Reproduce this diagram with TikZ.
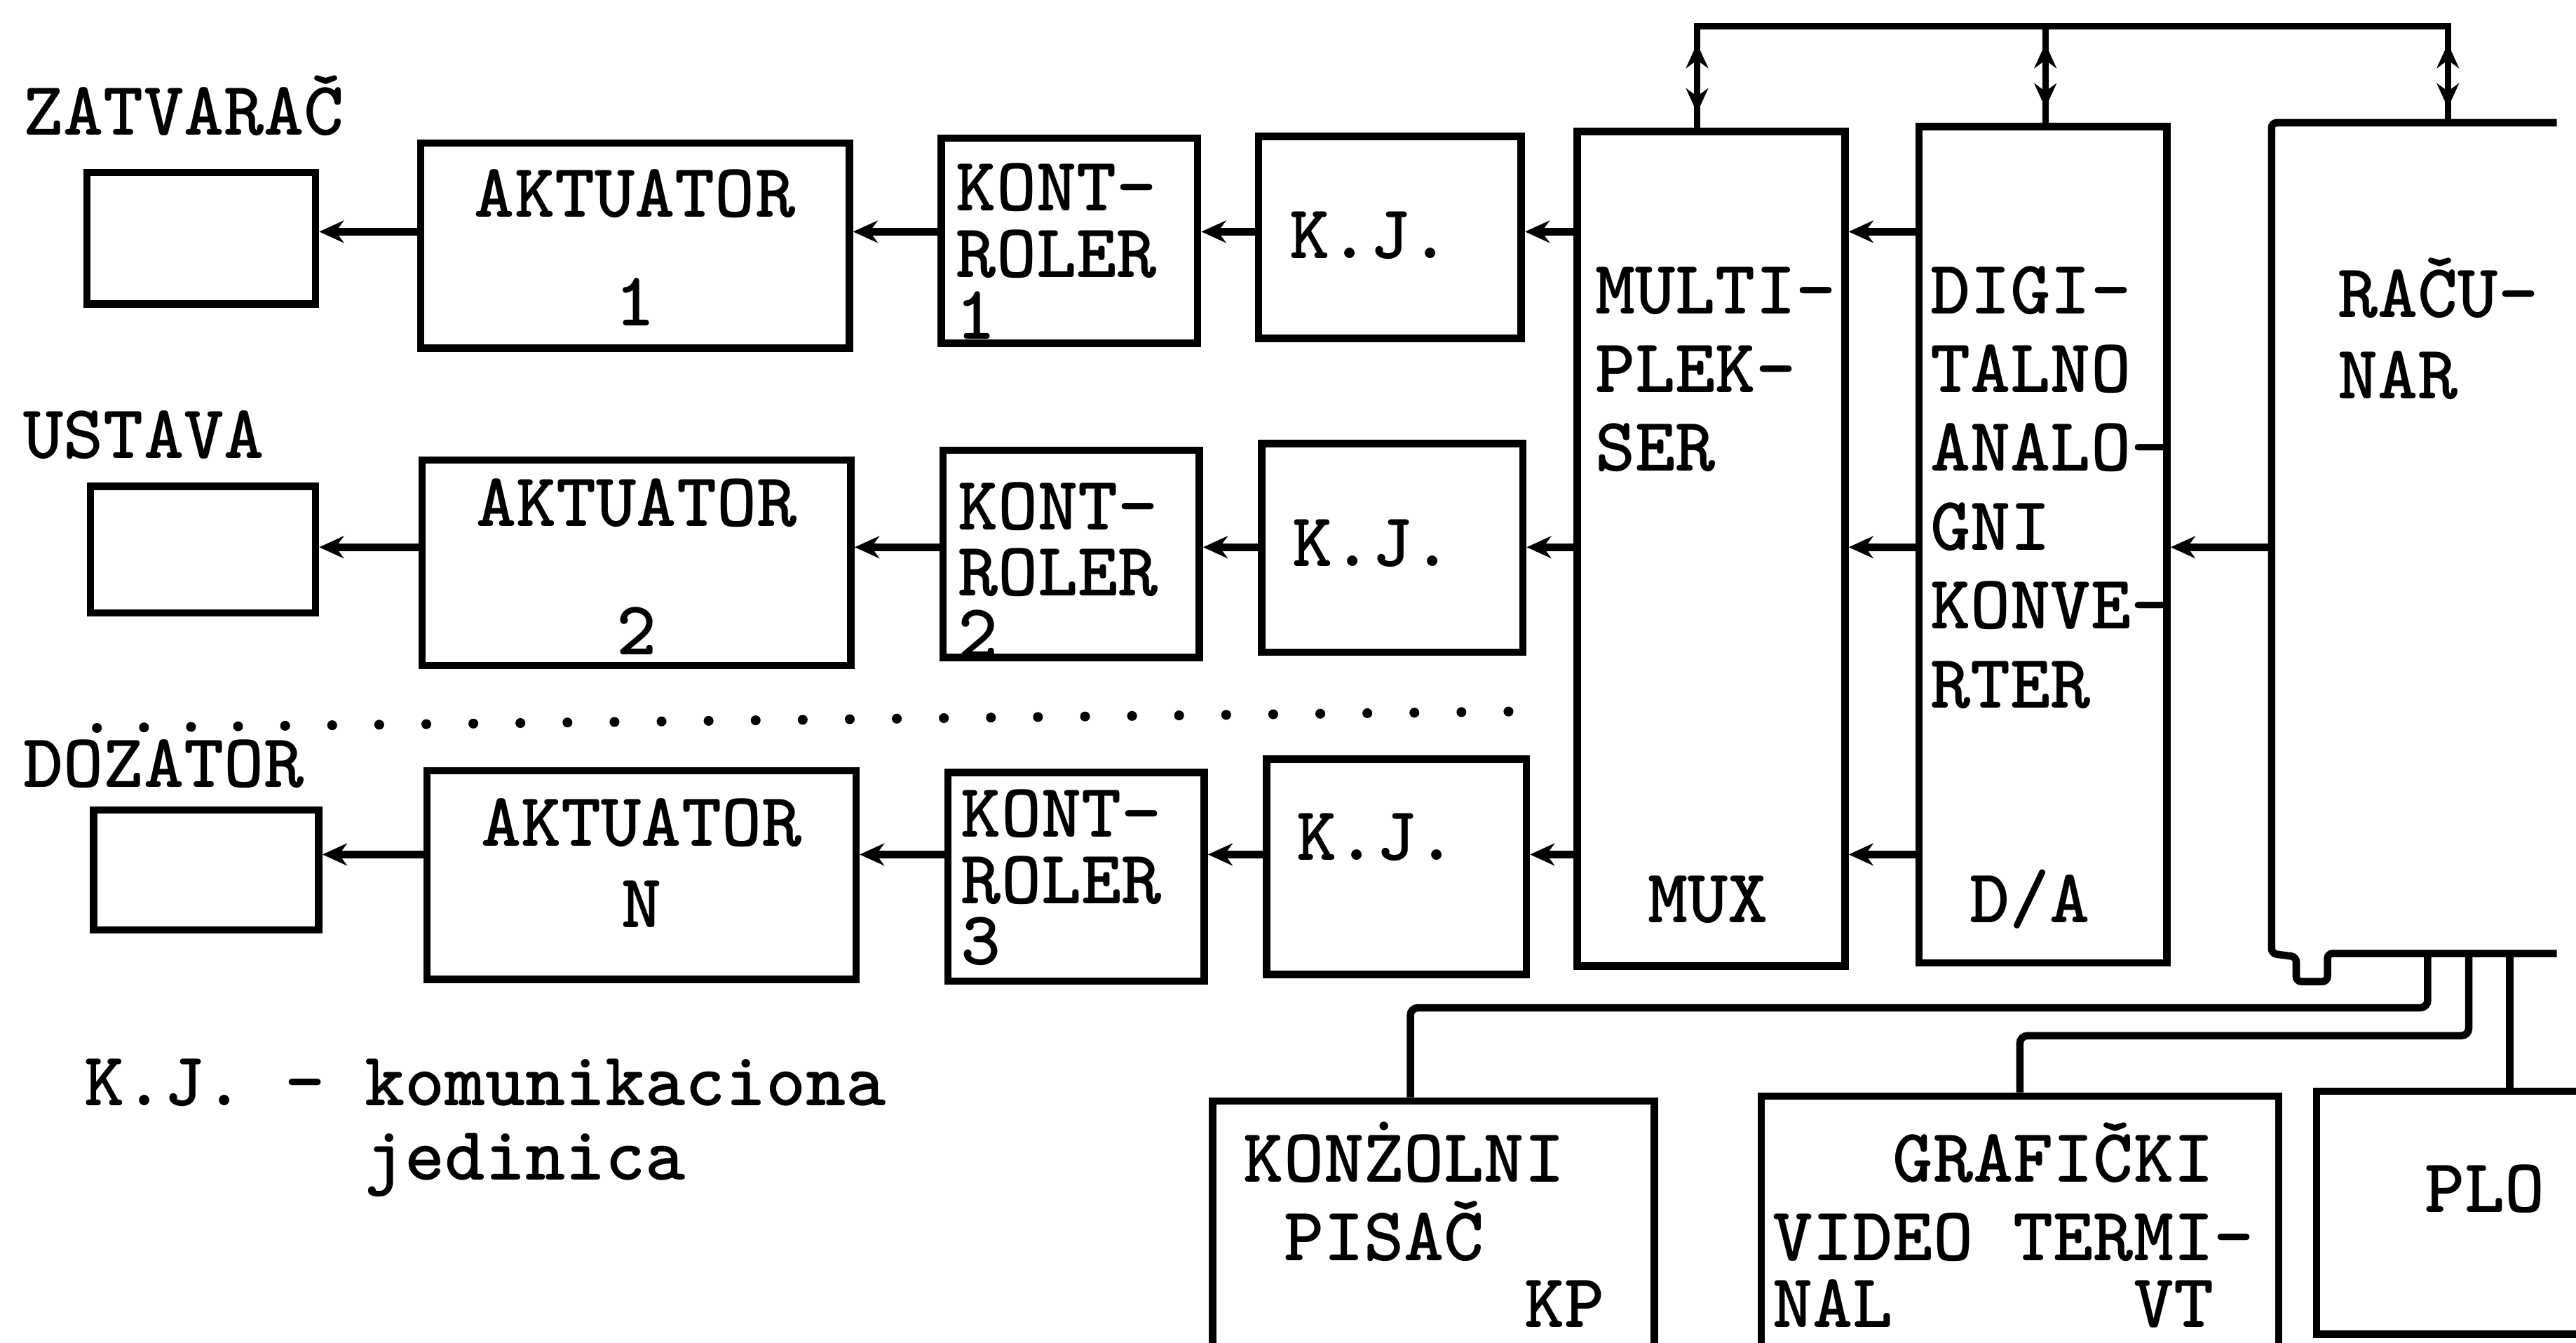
\documentclass[tikz,border=0pt]{standalone}
\usetikzlibrary{arrows.meta, fit}
\newcommand{\tyfs}[1]{\fontsize{31pt}{#1}\selectfont\ttfamily\bfseries\frenchspacing}
\newcommand{\tyf}{\tyfs{27pt}}

\begin{document}
\begin{tikzpicture}[x=0.02343cm, y=-0.02343cm,
    blk/.style={draw, line width=3pt, inner sep=0pt},
    txt/.style={font=\tyf, inner sep=0pt, align=left, anchor=base west},
    mid/.style={font=\tyf, inner sep=0pt, align=center, anchor=base},
    arr/.style={-{Stealth[length=10pt,width=9pt]}, line width=3pt},
    busline/.style={line width=2.6pt},
    busarr/.style={<->, >={Stealth[length=10pt,width=9pt]}, line width=2.6pt,
      shorten <=7pt, shorten >=6pt},
    wire/.style={line width=3pt, rounded corners=3pt},
    dotrow/.style={line width=4pt, line cap=round, dash pattern=on 0pt off 19.1pt}
  ]
  \useasboundingbox (0,0) rectangle (1568,817);
  \coordinate (r1) at (0,141);
  \coordinate (r2) at (0,333);
  \coordinate (r3) at (0,520);

  % row labels
  \node[txt] (zat) at (14,82) {ZATVARAČ};
  \node[txt] (ust) at (14,279) {USTAVA};
  \node[txt] (doz) at (14,479) {DOZATOR};

  % row 1
  \node[blk, fit={(53,105) (192,185)}] (sm1) {};
  \node[blk, fit={(256,87) (517,212)}] (ak1) {};
  \node[mid] (ak1t) at ([shift={(0,-16)}]ak1.south) {AKTUATOR\\[17pt]1};
  \node[blk, fit={(573,84) (729,209)}] (kr1) {};
  \node[txt] (kr1t) at ([shift={(11,-5)}]kr1.south west) {KONT-\\ROLER\\[-2pt]1};
  \node[blk, fit={(766,83) (926,206)}] (kj1) {};
  \node[txt, anchor=center] (kj1t) at ([shift={(-12,-1)}]kj1.center) {K.J.};

  % row 2
  \node[blk, fit={(55,296) (192,373)}] (sm2) {};
  \node[blk, fit={(257,280) (518,405)}] (ak2) {};
  \node[mid] (ak2t) at ([shift={(0,-9)}]ak2.south) {AKTUATOR\\[25pt]2};
  \node[blk, fit={(574,274) (730,400)}] (kr2) {};
  \node[txt] (kr2t) at ([shift={(11,-2)}]kr2.south west) {KONT-\\ROLER\\[-2pt]2};
  \node[blk, fit={(768,270) (927,397)}] (kj2) {};
  \node[txt, anchor=center] (kj2t) at ([shift={(-12,-3)}]kj2.center) {K.J.};

  \draw[dotrow] (59,443) -- (920,433);

  % row 3
  \node[blk, fit={(57,493) (194,566)}] (sm3) {};
  \node[blk, fit={(260,469) (521,596)}] (ak3) {};
  \node[mid] (ak3t) at ([shift={(0,-34)}]ak3.south) {AKTUATOR\\[6pt]N};
  \node[blk, fit={(577,470) (733,597)}] (kr3) {};
  \node[txt] (kr3t) at ([shift={(10,-12)}]kr3.south west) {KONT-\\ROLER\\[-2pt]3};
  \node[blk, fit={(771,462) (929,593)}] (kj3) {};
  \node[txt, anchor=center] (kj3t) at ([shift={(-12,-18)}]kj3.center) {K.J.};

  % multiplekser, D/A, racunar
  \node[blk, fit={(960,80) (1123,588)}] (mux) {};
  \node[txt, font=\tyfs{32pt}] (muxt) at ([shift={(13,209)}]mux.north west) {MULTI-\\PLEK-\\SER};
  \node[txt] (muxb) at ([shift={(45,-29)}]mux.south west) {MUX};
  \node[blk, fit={(1168,77) (1319,586)}] (digi) {};
  \node[txt, font=\tyfs{32pt}] (digit) at ([shift={(9,356)}]digi.north west)
    {DIGI-\\TALNO\\ANALO-\\GNI\\KONVE-\\RTER};
  \node[txt] (digib) at ([shift={(33,-27)}]digi.south west) {D/A};
  \node[fit={(1383,75) (1556,580)}, inner sep=0pt] (rac) {};
  \draw[line width=3pt, rounded corners=2pt] (rac.north east) -- (rac.north west)
    -- (rac.south west) -- ++(15,2) -- ++(0,15) -- ++(19,0) -- ++(0,-17) -- (rac.south east);
  \node[txt, font=\tyfs{33pt}] (ract) at ([shift={(40,168)}]rac.north west) {RAČU-\\NAR};

  % bus
  \coordinate (b1) at (1033,16);
  \coordinate (b2) at (1245,16);
  \coordinate (b3) at (1490,16);
  \draw[busline] (b1 |- mux.north) -- (b1) -- (b3) -- (b3 |- rac.north);
  \draw[busline] (b2) -- (b2 |- digi.north);
  \draw[busarr] (b1) -- (b1 |- mux.north);
  \draw[busarr] (b2) -- (b2 |- digi.north);
  \draw[busarr] (b3) -- (b3 |- rac.north);

  % signal flow
  \draw[arr] (mux.west |- r1) -- (kj1.east |- r1);
  \draw[arr] (kj1.west |- r1) -- (kr1.east |- r1);
  \draw[arr] (kr1.west |- r1) -- (ak1.east |- r1);
  \draw[arr] (ak1.west |- r1) -- (sm1.east |- r1);
  \draw[arr] (mux.west |- r2) -- (kj2.east |- r2);
  \draw[arr] (kj2.west |- r2) -- (kr2.east |- r2);
  \draw[arr] (kr2.west |- r2) -- (ak2.east |- r2);
  \draw[arr] (ak2.west |- r2) -- (sm2.east |- r2);
  \draw[arr] (mux.west |- r3) -- (kj3.east |- r3);
  \draw[arr] (kj3.west |- r3) -- (kr3.east |- r3);
  \draw[arr] (kr3.west |- r3) -- (ak3.east |- r3);
  \draw[arr] (ak3.west |- r3) -- (sm3.east |- r3);
  \draw[arr] (digi.west |- r1) -- (mux.east |- r1);
  \draw[arr] (digi.west |- r2) -- (mux.east |- r2);
  \draw[arr] (digi.west |- r3) -- (mux.east |- r3);
  \draw[arr] (rac.west |- r2) -- (digi.east |- r2);

  \node[txt] (leg) at (51,718) {K.J. - komunikaciona\\[3pt]\hphantom{K.J.~-~}jedinica};

  % peripherals
  \node[blk, fit={(738,670) (1007,822)}] (konz) {};
  \node[txt] (konzt) at ([shift={(21,140)}]konz.north west)
    {KONŻOLNI\\[5pt]\hphantom{K}PISAČ\\\hphantom{KONŻOLN}KP};
  \node[blk, fit={(1072,667) (1387,822)}] (graf) {};
  \node[txt] (graft) at ([shift={(9,143)}]graf.north west)
    {\hphantom{VID}GRAFIČKI\\[5pt]VIDEO TERMI-\\NAL~~~~~~VT};
  \node[blk, fit={(1410,664) (1600,812)}] (plot) {};
  \node[txt] (plott) at ([shift={(68,76)}]plot.north west) {PLO};

  \coordinate (p1) at ([shift={(95,0)}]rac.south west);
  \coordinate (p2) at ([shift={(120,0)}]rac.south west);
  \coordinate (p3) at ([shift={(145,0)}]rac.south west);
  \draw[wire] (p1) -- ++(0,33) -| ([shift={(-14,0)}]konz.north);
  \draw[wire] (p2) -- ++(0,50) -| (graf.north);
  \draw[wire] (p3) -- (p3 |- plot.north);
\end{tikzpicture}
\end{document}
